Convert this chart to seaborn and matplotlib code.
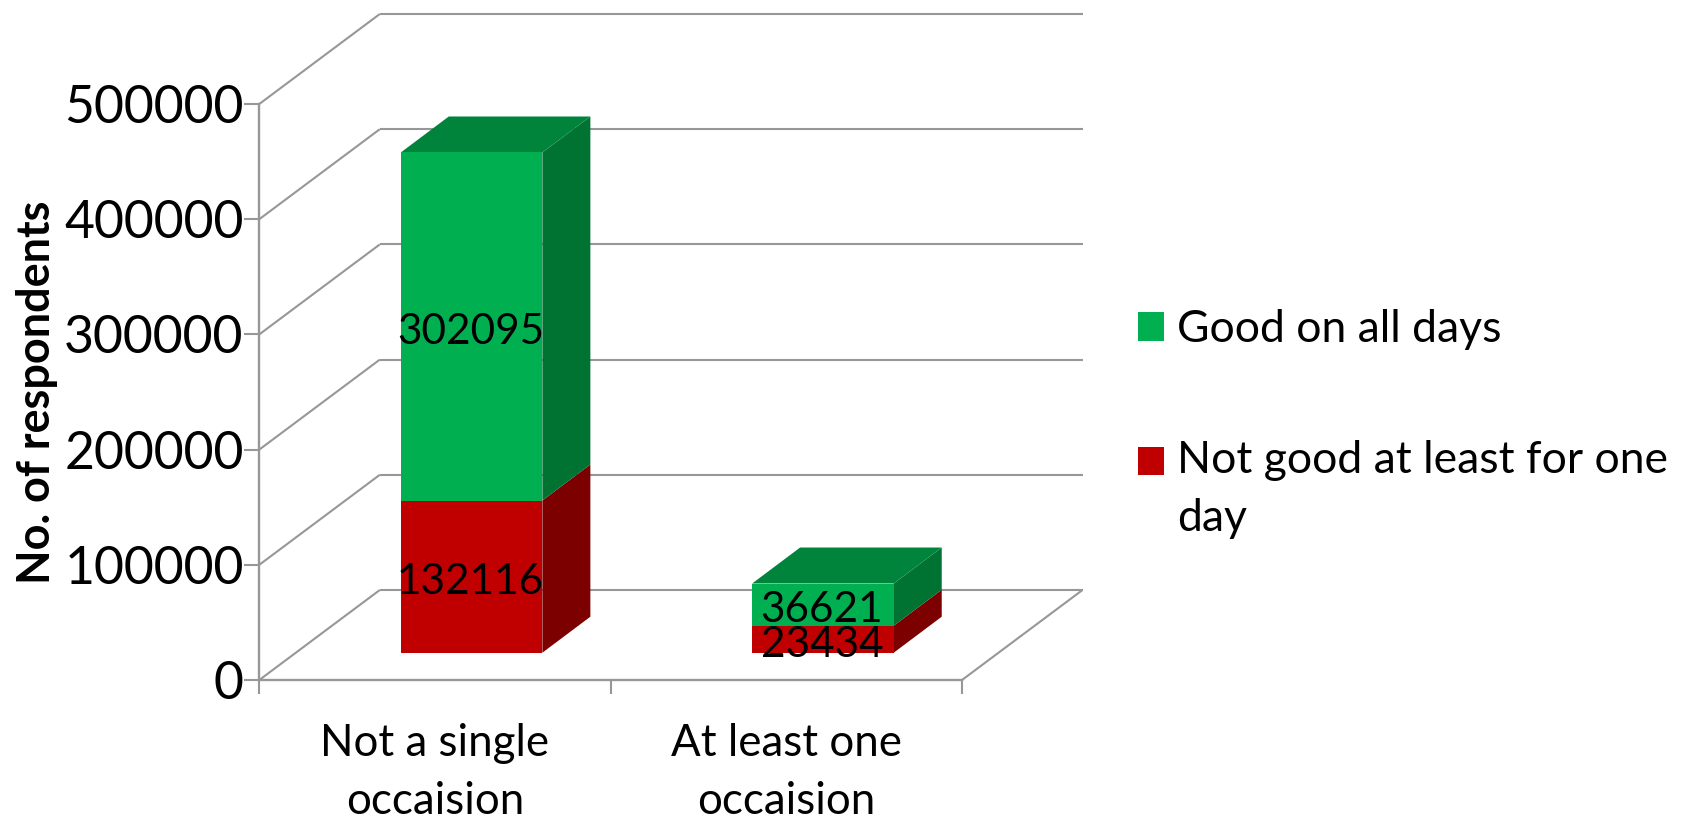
import matplotlib
matplotlib.use("Agg")
import matplotlib.pyplot as plt
import seaborn as sns
from matplotlib.patches import Patch

# Respondents by meal occasion and by how the day went
categories = ["Not a single\noccaision", "At least one\noccaision"]
not_good = [132116, 23434]
good = [302095, 36621]
series_names = ["Good on all days", "Not good at least for one\nday"]
y_ticks = [0, 100000, 200000, 300000, 400000, 500000]
y_title = "No. of respondents"

GREEN, GREEN_SIDE, GREEN_TOP = "#00B050", "#007232", "#00843C"
RED, RED_SIDE = "#C00000", "#7C0000"
WALL = "#979797"
FONT = "Lato"

sns.set_theme(style="white")
plt.rcParams["font.family"] = [FONT, "DejaVu Sans"]

W, H = 1684, 821
fig = plt.figure(figsize=(W / 100, H / 100), dpi=100, facecolor="white")
left, right, y0, y500 = 259.3, 962.0, 680.0, 104.0
ax = fig.add_axes([left / W, 1 - y0 / H, (right - left) / W, (y0 - y500) / H])

# Size of one pixel in data units, used for the oblique projection
XMIN, XMAX, YMAX = -0.5, 1.5, 500000
px_x = (XMAX - XMIN) / (right - left)
px_y = YMAX / (y0 - y500)
wall_dx, wall_dy = 120.5 * px_x, 90 * px_y       # floor depth
lift_dx, lift_dy = 36.6 * px_x, 27.3 * px_y      # bars stand part-way along the floor
bar_dx, bar_dy = 48 * px_x, 36 * px_y            # depth of a bar
BAR_WIDTH = 0.403

# Stacked front faces
sns.barplot(x=categories, y=not_good, color=RED, saturation=1, width=BAR_WIDTH,
            linewidth=0, ax=ax, zorder=3)
n_red = len(ax.patches)
sns.barplot(x=categories, y=good, color=GREEN, saturation=1, width=BAR_WIDTH,
            linewidth=0, ax=ax, zorder=3)
red_faces = ax.patches[:n_red]
green_faces = ax.patches[n_red:]

for face in red_faces:
    face.set_x(face.get_x() + lift_dx)
    face.set_y(lift_dy)
for face, below in zip(green_faces, not_good):
    face.set_x(face.get_x() + lift_dx)
    face.set_y(lift_dy + below)


def draw_side(face, colour):
    x = face.get_x() + face.get_width()
    y_low, y_high = face.get_y(), face.get_y() + face.get_height()
    ax.fill([x, x + bar_dx, x + bar_dx, x],
            [y_low, y_low + bar_dy, y_high + bar_dy, y_high],
            color=colour, lw=0, zorder=2.5, clip_on=False)


def draw_top(face, colour):
    x_low, x_high = face.get_x(), face.get_x() + face.get_width()
    y = face.get_y() + face.get_height()
    ax.fill([x_low, x_high, x_high + bar_dx, x_low + bar_dx],
            [y, y, y + bar_dy, y + bar_dy],
            color=colour, lw=0, zorder=2.5, clip_on=False)


for face in red_faces:
    draw_side(face, RED_SIDE)
for face in green_faces:
    draw_side(face, GREEN_SIDE)
    draw_top(face, GREEN_TOP)

# Value labels centred on each front face
for face, value in zip(list(red_faces) + list(green_faces), not_good + good):
    ax.text(face.get_x() + face.get_width() / 2 - 1 * px_x,
            face.get_y() + face.get_height() / 2 - 2 * px_y,
            str(value), ha="center", va="center_baseline", fontsize=30.4, color="black",
            zorder=4, clip_on=False)

# Back wall, side wall and floor
line_style = dict(color=WALL, lw=1.5, zorder=1, clip_on=False, solid_capstyle="butt")
for tick in y_ticks:
    ax.plot([XMIN, XMIN + wall_dx], [tick, tick + wall_dy], **line_style)
    ax.plot([XMIN + wall_dx, XMAX + wall_dx], [tick + wall_dy, tick + wall_dy], **line_style)
ax.plot([XMAX, XMAX + wall_dx], [0, wall_dy], **line_style)

ax.set_xlim(XMIN, XMAX)
ax.set_ylim(0, YMAX)
ax.set_facecolor("none")
sns.despine(ax=ax, top=True, right=True)
for side in ("left", "bottom"):
    ax.spines[side].set_color(WALL)
    ax.spines[side].set_linewidth(1.7)
    ax.spines[side].set_zorder(1.5)

ax.set_yticks(y_ticks)
ax.set_yticklabels([str(t) for t in y_ticks])
ax.tick_params(axis="y", which="major", left=True, length=11, width=1.5, color=WALL,
               pad=0.3, labelsize=37.3, labelcolor="black")
ax.set_xticks([0, 1])
ax.set_xticklabels(categories, linespacing=1.5)
ax.set_xticks([XMIN, 0.5, XMAX], minor=True)
ax.tick_params(axis="x", which="major", length=0, pad=31, labelsize=31.6, labelcolor="black")
ax.tick_params(axis="x", which="minor", bottom=True, length=10, width=1.5, color=WALL)

ax.set_xlabel("")
ax.set_ylabel(y_title, fontsize=32.4, fontweight="bold", color="black")
ax.yaxis.set_label_coords((58.5 - left) / (right - left), 0.5)

# Legend with square keys to the right of the plot
handles = [Patch(facecolor=GREEN, edgecolor="none"), Patch(facecolor=RED, edgecolor="none")]
legend = fig.legend(handles, series_names, loc="upper left", bbox_to_anchor=(1138 / W, 1 - 309 / H),
                    frameon=False, fontsize=32, handlelength=0.58, handleheight=0.61,
                    handletextpad=0.29, labelspacing=2.03, borderpad=0, borderaxespad=0,
                    labelcolor="black")
for label in legend.get_texts():
    label.set_linespacing(1.5)
# The key of the wrapped entry sits beside its first line
legend.legend_handles[1].set_y(legend.legend_handles[1].get_y() + 21)

fig.savefig("out.png", dpi=100, facecolor="white")
